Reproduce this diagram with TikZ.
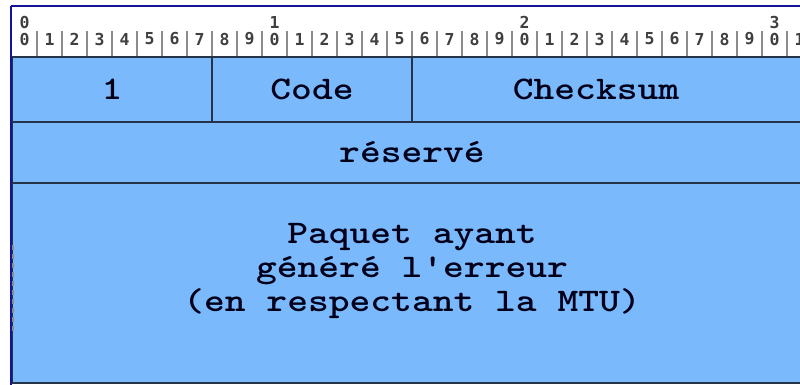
\documentclass[tikz,border=0pt]{standalone}
\usepackage{fontspec}
\usetikzlibrary{calc}
\newfontfamily\fieldfont[FakeStretch=1.2]{lmmonolt10-bold.otf}
\newfontfamily\rulerfont{DejaVu Sans Mono}
\definecolor{fieldblue}{RGB}{123,185,253}
\definecolor{fieldline}{RGB}{38,50,72}
\definecolor{frameblue}{RGB}{20,20,150}
\definecolor{tickgray}{RGB}{140,140,140}
\tikzset{
  field/.style={draw=fieldline, line width=1.4, fill=fieldblue, inner sep=0, outer sep=0},
  fieldtext/.style={font=\fieldfont\fontsize{33}{34}\selectfont, text=black!90!blue, inner sep=0, align=center},
  bitnum/.style={font=\rulerfont\bfseries\fontsize{16.5}{16.5}\selectfont, text=black!75, inner sep=0}
}

\begin{document}
\begin{tikzpicture}[x=1pt, y=-1pt]
		%%%%% START %%%%%
		\useasboundingbox (0, 0) rectangle (800, 385);
		\clip (0, 0) rectangle (800, 385);
		\fill[white] (0, 0) rectangle (800, 385);
		
		% ruler
		\foreach \d in {0, 1, 2, 3}
			\node[bitnum] (top\d) at (24.5 + 250*\d, 22) {\d};
		\foreach \i in {0, ..., 31} {
			\pgfmathtruncatemacro{\digit}{mod(\i, 10)}
			\node[bitnum] (bit\i) at (24.5 + 25*\i, 39) {\digit};
		}
		\foreach \i in {0, ..., 30}
			\draw[tickgray, line width=1.2] (37 + 25*\i, 31) -- (37 + 25*\i, 57);
		
		% fields
		\node[field, minimum width=200, minimum height=65] (type) at (112, 89.5) {};
		\node[field, minimum width=200, minimum height=65] (code) at (312, 89.5) {};
		\node[field, minimum width=400, minimum height=65] (cksum) at (612, 89.5) {};
		\node[field, minimum width=800, minimum height=61] (resv) at (412, 152.5) {};
		\node[field, minimum width=800, minimum height=200] (pkt) at (412, 283) {};
		
		\node[fieldtext] (typelbl) at (type) {1};
		\node[fieldtext] (codelbl) at (code) {Code};
		\node[fieldtext] (cksumlbl) at ($(cksum.center) + (-16, 0)$) {Checksum};
		\node[fieldtext] (resvlbl) at (resv) {réservé};
		\node[fieldtext] (pktlbl) at ($(pkt.center) + (0, -12)$) {Paquet ayant\\généré l'erreur\\(en respectant la MTU)};
		
		\draw[fieldline, line width=2] (12, 57) -- (800, 57);
		\draw[tickgray, dash pattern=on 5 off 4, line width=1.5] (13, 245) -- (13, 335);
		
		% frame
		\draw[frameblue, line width=1.6] (11, 6) -- (800, 6);
		\draw[frameblue, line width=2] (11, 6) -- (11, 385);
		%%%%% END %%%%%
	\end{tikzpicture}
\end{document}
